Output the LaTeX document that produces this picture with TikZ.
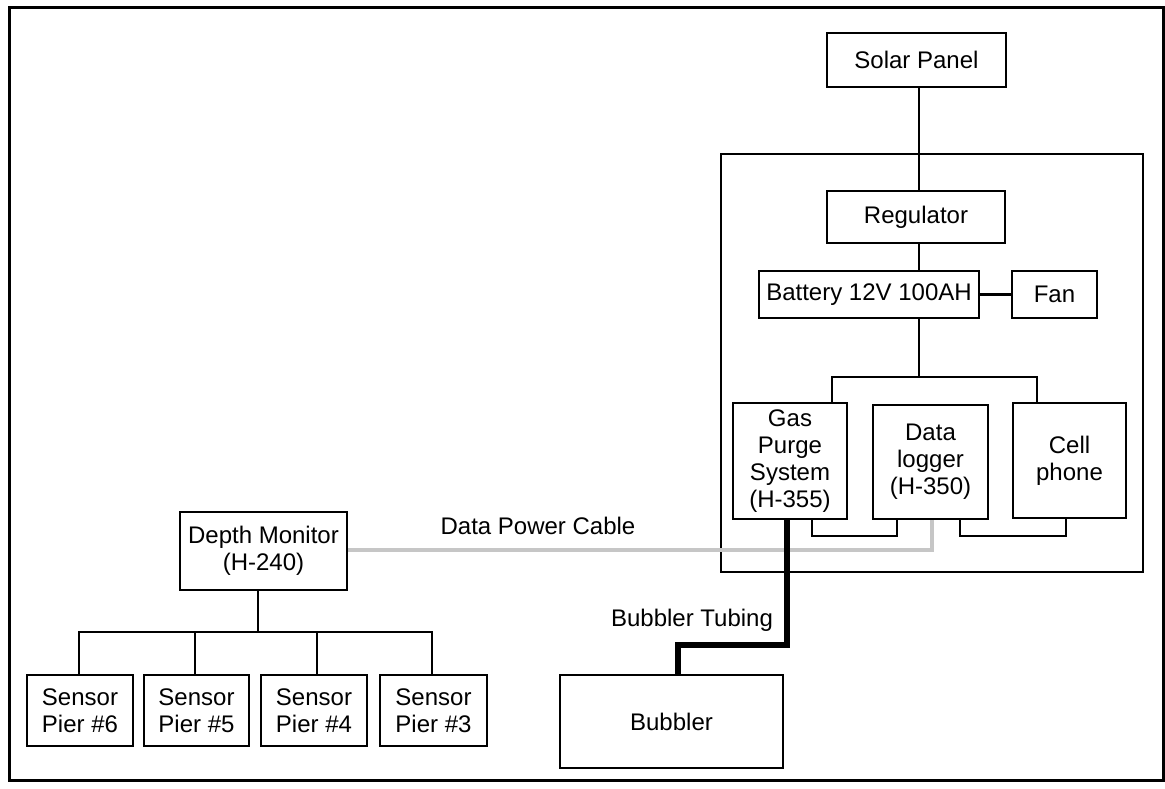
\documentclass[tikz,border=0pt]{standalone}
\usepackage{fontspec}
\setmainfont{Liberation Sans}
\begin{document}
\begin{tikzpicture}[x=1pt,y=-1pt,
  box/.style={draw=black,line width=2.4pt,inner sep=0pt,align=center,
    font=\fontsize{24}{27}\selectfont},
  wire/.style={draw=black,line width=2.4pt},
  tube/.style={draw=black,line width=5.5pt},
  cable/.style={draw=gray!45,line width=4pt},
  lbl/.style={inner sep=0pt,font=\fontsize{24}{27}\selectfont}]
\useasboundingbox (0,0) rectangle (1165,788);
\draw[line width=3pt] (9,7) rectangle (1163,780);
% boxes
\node[box,minimum width=179pt,minimum height=54pt] (solar) at (916.5,60) {Solar Panel};
\node[draw=black,line width=2.4pt,minimum width=422pt,minimum height=418pt,inner sep=0pt] (cont) at (932,363) {};
\node[box,minimum width=178pt,minimum height=52pt] (reg) at (916,217) {Regulator};
\node[box,minimum width=220pt,minimum height=47pt] (batt) at (869,294.5) {Battery 12V 100AH};
\node[box,minimum width=85pt,minimum height=47pt] (fan) at (1054.5,294.5) {Fan};
\node[box,minimum width=114pt,minimum height=116pt] (gas) at (790,461) {Gas\\Purge\\System\\(H-355)};
\node[box,minimum width=115pt,minimum height=114pt] (logger) at (930.5,462) {Data\\logger\\(H-350)};
\node[box,minimum width=113pt,minimum height=115pt] (cell) at (1069.5,460.5) {Cell\\phone};
\node[box,minimum width=167pt,minimum height=78pt] (depth) at (263.5,551) {Depth Monitor\\(H-240)};
\node[box,minimum width=106pt,minimum height=71pt] (s6) at (80,710.5) {Sensor\\Pier \#6};
\node[box,minimum width=105pt,minimum height=71pt] (s5) at (196.5,710.5) {Sensor\\Pier \#5};
\node[box,minimum width=106pt,minimum height=71pt] (s4) at (314,710.5) {Sensor\\Pier \#4};
\node[box,minimum width=107pt,minimum height=71pt] (s3) at (433.5,710.5) {Sensor\\Pier \#3};
\node[box,minimum width=223pt,minimum height=93pt] (bub) at (671.5,721.5) {Bubbler};
% labels
\node[lbl] (lcable) at (538,526) {Data Power Cable};
\node[lbl] (ltube) at (692,620) {Bubbler Tubing};
% coordinates
\coordinate (sx) at (919,0);
\coordinate (busL) at (832,377);
\coordinate (busR) at (1037,377);
\coordinate (u1a) at (812,536);
\coordinate (u1b) at (897,536);
\coordinate (u2a) at (960,536);
\coordinate (u2b) at (1066,536);
\coordinate (cab) at (932,550);
\coordinate (t1) at (787,645);
\coordinate (t2) at (678,645);
\coordinate (dv) at (258,632);
\coordinate (sb6) at (79,632);
\coordinate (sb5) at (195,632);
\coordinate (sb4) at (317,632);
\coordinate (sb3) at (432,632);
% connectors
\draw[wire] (solar.south -| sx) -- (reg.north -| sx);
\draw[wire] (reg.south -| sx) -- (batt.north -| sx);
\draw[wire] (batt.east) -- (fan.west);
\draw[wire] (batt.south -| sx) -- (busL -| sx);
\draw[wire] (gas.north -| busL) -- (busL) -- (busR) -- (cell.north -| busR);
\draw[wire] (gas.south -| u1a) -- (u1a) -- (u1b) -- (logger.south -| u1b);
\draw[wire] (logger.south -| u2a) -- (u2a) -- (u2b) -- (cell.south -| u2b);
\draw[cable] (depth.east |- cab) -- (cab) -- (logger.south -| cab);
\draw[tube] (gas.south -| t1) -- (t1) -- (t2) -- (bub.north -| t2);
\draw[wire] (depth.south -| dv) -- (dv);
\draw[wire] (s6.north -| sb6) -- (sb6) -- (sb3) -- (s3.north -| sb3);
\draw[wire] (sb5) -- (s5.north -| sb5);
\draw[wire] (sb4) -- (s4.north -| sb4);
\end{tikzpicture}
\end{document}
